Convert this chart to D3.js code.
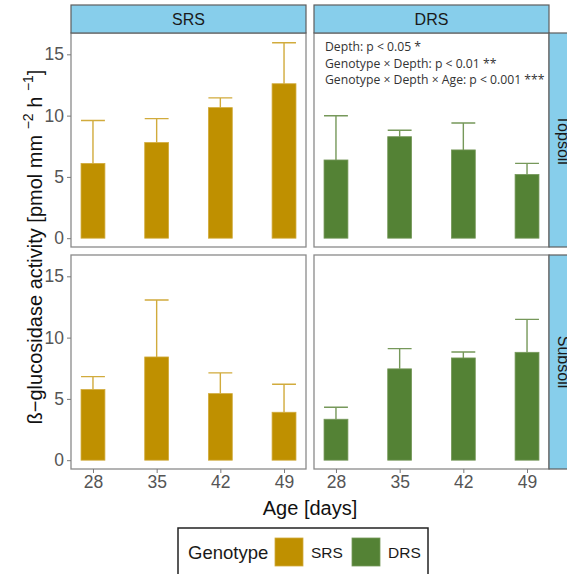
<!DOCTYPE html>
<html>
<head>
<meta charset="utf-8">
<script src="https://cdn.jsdelivr.net/npm/d3@7"></script>
<style>
  html, body { margin: 0; padding: 0; background: #fff; }
  svg { display: block; font-family: "Liberation Sans", Arial, sans-serif; }
</style>
</head>
<body>
<svg id="chart" width="567" height="574"></svg>
<script>
// Ages (days) on the x axis
const ages = ["28", "35", "42", "49"];
const genotypes = ["SRS", "DRS"];
const depths = ["Topsoil", "Subsoil"];
const yTicks = [0, 5, 10, 15];

// Mean activity and upper error-bar end for each genotype × depth panel
const srsTopMean  = [6.1, 7.8, 10.65, 12.6];
const srsTopUpper = [9.6, 9.75, 11.45, 15.94];
const drsTopMean  = [6.38, 8.28, 7.2, 5.2];
const drsTopUpper = [9.99, 8.8, 9.4, 6.1];
const srsSubMean  = [5.76, 8.42, 5.43, 3.91];
const srsSubUpper = [6.82, 13.07, 7.12, 6.2];
const drsSubMean  = [3.34, 7.45, 8.34, 8.8];
const drsSubUpper = [4.32, 9.1, 8.83, 11.49];

const annotations = [
  "Depth: p < 0.05 *",
  "Genotype × Depth: p < 0.01 **",
  "Genotype × Depth × Age: p < 0.001 ***"
];

const fillColor = { SRS: "#BF9000", DRS: "#548235" };
const lineColor = { SRS: "#D1AB3C", DRS: "#76985A" };

const panels = [
  { g: "SRS", d: "Topsoil", mean: srsTopMean, upper: srsTopUpper, col: 0, row: 0 },
  { g: "DRS", d: "Topsoil", mean: drsTopMean, upper: drsTopUpper, col: 1, row: 0 },
  { g: "SRS", d: "Subsoil", mean: srsSubMean, upper: srsSubUpper, col: 0, row: 1 },
  { g: "DRS", d: "Subsoil", mean: drsSubMean, upper: drsSubUpper, col: 1, row: 1 }
];

const svg = d3.select("#chart");

const colX = [71, 314];
const rowY = [33, 255];
const panelW = 235, panelH = 214;
const stripH = 28, stripW = 28;

const x = d3.scalePoint().domain(ages).range([0, panelW]).padding(0.345);
const barW = x.step() * 0.375;
const y = d3.scaleLinear().domain([-0.72, 16.74]).range([panelH, 0]);

const tickGrey = "#555555";

panels.forEach(p => {
  const g = svg.append("g")
    .attr("transform", `translate(${colX[p.col]},${rowY[p.row]})`);

  g.append("rect")
    .attr("width", panelW).attr("height", panelH)
    .attr("fill", "#fff");

  const data = ages.map((a, i) => ({ age: a, mean: p.mean[i], upper: p.upper[i] }));

  // error bars (upper half only)
  g.selectAll(".eb").data(data).join("path")
    .attr("d", d => {
      const cx = x(d.age);
      return `M${cx},${y(d.mean)}V${y(d.upper)}M${cx - barW / 2},${y(d.upper)}H${cx + barW / 2}`;
    })
    .attr("stroke", lineColor[p.g]).attr("stroke-width", 1.4).attr("fill", "none");

  // bars
  g.selectAll(".bar").data(data).join("rect")
    .attr("x", d => x(d.age) - barW / 2)
    .attr("y", d => y(d.mean))
    .attr("width", barW)
    .attr("height", d => y(0) - y(d.mean))
    .attr("fill", fillColor[p.g])
    .attr("stroke", lineColor[p.g]).attr("stroke-width", 0.8);

  // panel frame
  g.append("rect")
    .attr("width", panelW).attr("height", panelH)
    .attr("fill", "none").attr("stroke", "#8A8A8A").attr("stroke-width", 1.3);

  // y axis on the left column
  if (p.col === 0) {
    const ya = d3.axisLeft(y).tickValues(yTicks).tickSize(4).tickPadding(3);
    const ag = g.append("g").call(ya);
    ag.select(".domain").remove();
    ag.selectAll("line").attr("stroke", "#7A7A7A").attr("stroke-width", 1);
    ag.selectAll("text").attr("fill", tickGrey).attr("font-size", 17.5)
      .attr("font-family", "Liberation Sans, Arial, sans-serif");
  }
  // x axis on the bottom row
  if (p.row === 1) {
    const xa = d3.axisBottom(x).tickSize(4).tickPadding(3);
    const ag = g.append("g").attr("transform", `translate(0,${panelH})`).call(xa);
    ag.select(".domain").remove();
    ag.selectAll("line").attr("stroke", "#7A7A7A").attr("stroke-width", 1);
    ag.selectAll("text").attr("fill", tickGrey).attr("font-size", 17.5)
      .attr("font-family", "Liberation Sans, Arial, sans-serif");
  }

  // top strips
  if (p.row === 0) {
    const s = svg.append("g").attr("transform", `translate(${colX[p.col]},${rowY[0] - stripH})`);
    s.append("rect").attr("width", panelW).attr("height", stripH)
      .attr("fill", "#87CEEB").attr("stroke", "#5E5E5E").attr("stroke-width", 1.2);
    s.append("text").attr("x", panelW / 2).attr("y", stripH / 2)
      .attr("text-anchor", "middle").attr("dominant-baseline", "central")
      .attr("font-size", 16).attr("fill", "#1A1A1A").text(p.g);
  }
  // right strips
  if (p.col === 1) {
    const s = svg.append("g").attr("transform", `translate(${colX[1] + panelW},${rowY[p.row]})`);
    s.append("rect").attr("width", stripW).attr("height", panelH)
      .attr("fill", "#87CEEB").attr("stroke", "#5E5E5E").attr("stroke-width", 1.2);
    s.append("text")
      .attr("transform", `translate(${stripW / 2},${panelH / 2}) rotate(90)`)
      .attr("text-anchor", "middle").attr("dominant-baseline", "central")
      .attr("font-size", 16).attr("fill", "#1A1A1A").text(p.d);
  }
});

// statistics annotation in the DRS topsoil panel
const ann = svg.append("g").attr("transform", `translate(${colX[1] + 11},${rowY[0]})`);
ann.selectAll("text").data(annotations).join("text")
  .attr("x", 0).attr("y", (d, i) => 18 + i * 16.5)
  .attr("font-size", 12.2).attr("fill", "#333")
  .attr("font-family", "Open Sans, Liberation Sans, sans-serif")
  .text(d => d);

// axis titles
svg.append("text")
  .attr("x", 310).attr("y", 515)
  .attr("text-anchor", "middle").attr("font-size", 20).attr("fill", "#111")
  .text("Age [days]");

const yl = svg.append("text")
  .attr("transform", `translate(42,${(rowY[0] + rowY[1] + panelH) / 2 - 4}) rotate(-90)`)
  .attr("text-anchor", "middle").attr("font-size", 20).attr("fill", "#111");
yl.append("tspan").text("ß−glucosidase activity [pmol mm ");
yl.append("tspan").attr("dy", -9).attr("font-size", 14).text("−2");
yl.append("tspan").attr("dy", 9).text(" h ");
yl.append("tspan").attr("dy", -9).attr("font-size", 14).text("−1");
yl.append("tspan").attr("dy", 9).text("]");

// legend
const lg = svg.append("g").attr("transform", "translate(178,528)");
lg.append("rect").attr("width", 250).attr("height", 60)
  .attr("fill", "#fff").attr("stroke", "#222").attr("stroke-width", 1.5);
lg.append("text").attr("x", 10).attr("y", 24).attr("dominant-baseline", "central")
  .attr("font-size", 18.5).attr("fill", "#1A1A1A").text("Genotype");
const keyX = [97, 174];
genotypes.forEach((gname, i) => {
  lg.append("rect").attr("x", keyX[i]).attr("y", 10).attr("width", 28).attr("height", 28)
    .attr("fill", fillColor[gname]).attr("stroke", lineColor[gname]).attr("stroke-width", 0.8);
  lg.append("text").attr("x", keyX[i] + 36).attr("y", 24).attr("dominant-baseline", "central")
    .attr("font-size", 15.5).attr("fill", "#1A1A1A").text(gname);
});
</script>
</body>
</html>
